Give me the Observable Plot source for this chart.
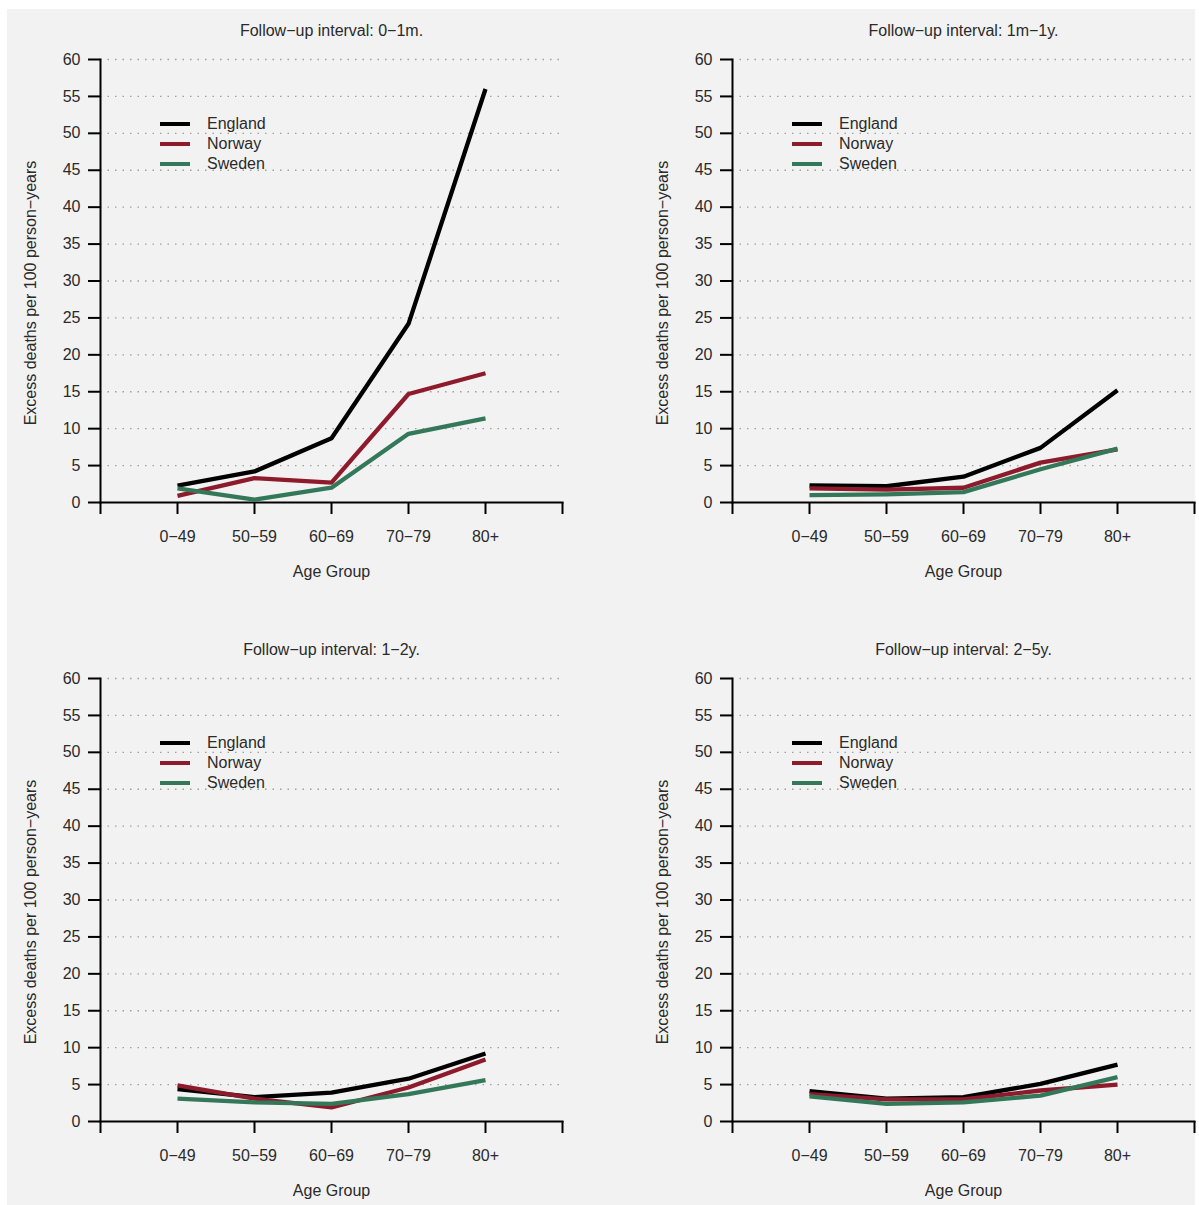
<!DOCTYPE html>
<html>
<head>
<meta charset="utf-8">
<script src="https://cdn.jsdelivr.net/npm/d3@7"></script>
<script src="https://cdn.jsdelivr.net/npm/@observablehq/plot@0.6"></script>
<style>
  body { margin: 0; background: #ffffff; font-family: "Liberation Sans", Arial, sans-serif; }
  #bg { position: absolute; left: 7px; top: 9px; width: 1188px; height: 1196px; background: #f2f2f2; }
  .panel { position: absolute; }
  .sw { position: absolute; width: 30px; height: 4px; }
  .lt { position: absolute; font-size: 16px; line-height: 20px; color: #2a2a2a; white-space: nowrap; }
</style>
</head>
<body>
<div id="bg"></div>
<script>
// ---- data ----
const ageGroups = ["0−49", "50−59", "60−69", "70−79", "80+"];
const countries = ["England", "Norway", "Sweden"];
const countryColors = ["#000000", "#8e1b2c", "#34785a"];
const intervals = ["0−1m.", "1m−1y.", "1−2y.", "2−5y."];
// excess deaths per 100 person-years, one row per follow-up interval, one value per age group
const england = [
  [2.3, 4.2, 8.7, 24.2, 56.0],
  [2.3, 2.2, 3.5, 7.4, 15.2],
  [4.4, 3.3, 3.9, 5.8, 9.2],
  [4.1, 3.1, 3.3, 5.1, 7.7]
];
const norway = [
  [0.9, 3.3, 2.7, 14.7, 17.5],
  [1.9, 1.75, 2.0, 5.4, 7.2],
  [4.9, 3.1, 1.9, 4.6, 8.4],
  [3.7, 3.0, 3.0, 4.2, 5.0]
];
const sweden = [
  [1.9, 0.4, 2.0, 9.3, 11.4],
  [1.0, 1.1, 1.4, 4.5, 7.3],
  [3.1, 2.6, 2.4, 3.7, 5.6],
  [3.4, 2.4, 2.6, 3.5, 6.0]
];
const yTicks = d3.range(0, 61, 5);
const yLabel = "Excess deaths per 100 person−years";
const xLabel = "Age Group";

// ---- layout ----
const panelPos = [
  { left: 0, top: 0 }, { left: 632, top: 0 },
  { left: 0, top: 619 }, { left: 632, top: 619 }
];
const seriesByCountry = [england, norway, sweden];

intervals.forEach((intv, k) => {
  const rows = [];
  countries.forEach((c, ci) => {
    seriesByCountry[ci][k].forEach((v, ai) => rows.push({ country: c, pos: ai + 1, value: v }));
  });
  const chart = Plot.plot({
    width: 567, height: 586,
    marginLeft: 100, marginRight: 5, marginTop: 59, marginBottom: 84,
    style: { background: "transparent", fontSize: "16px", fontFamily: "'Liberation Sans', Arial, sans-serif", color: "#2a2a2a" },
    x: { domain: [0, 6] },
    y: { domain: [0, 60] },
    color: { domain: countries, range: countryColors },
    marks: [
      Plot.gridY(yTicks.filter(d => d > 0), { stroke: "#a0a0a0", strokeOpacity: 1, strokeWidth: 1.3, strokeDasharray: "1.5,6" }),
      Plot.frame({ anchor: "left", stroke: "#000", strokeWidth: 2 }),
      Plot.frame({ anchor: "bottom", stroke: "#000", strokeWidth: 2 }),
      Plot.axisY(yTicks, { tickSize: 12, tickPadding: 8, strokeWidth: 2, stroke: "#000", label: null }),
      Plot.axisX(d3.range(0, 7), { tickSize: 12, tickPadding: 16, strokeWidth: 2, stroke: "#000", tickFormat: i => ageGroups[i - 1] ?? "", label: null }),
      Plot.lineY(rows, { x: "pos", y: "value", stroke: "country", z: "country", strokeWidth: 4.3, strokeLinejoin: "round", strokeLinecap: "butt" }),
      Plot.text([`Follow−up interval: ${intv}`], { frameAnchor: "top", dy: -29, fontSize: 16, lineAnchor: "middle" }),
      Plot.text([xLabel], { frameAnchor: "bottom", dy: 69, fontSize: 16, lineAnchor: "middle" }),
      Plot.text([yLabel], { frameAnchor: "left", rotate: -90, dx: -70, dy: 12, fontSize: 16, textAnchor: "middle", lineAnchor: "middle" })
    ]
  });
  const wrap = document.createElement("div");
  wrap.className = "panel";
  wrap.style.left = panelPos[k].left + "px";
  wrap.style.top = panelPos[k].top + "px";
  wrap.appendChild(chart);
  document.body.appendChild(wrap);

  // legend
  countries.forEach((c, ci) => {
    const yc = panelPos[k].top + 124 + ci * 20;
    const sw = document.createElement("div");
    sw.className = "sw";
    sw.style.left = (panelPos[k].left + 160) + "px";
    sw.style.top = (yc - 2) + "px";
    sw.style.background = countryColors[ci];
    document.body.appendChild(sw);
    const t = document.createElement("div");
    t.className = "lt";
    t.style.left = (panelPos[k].left + 207) + "px";
    t.style.top = (yc - 10) + "px";
    t.textContent = c;
    document.body.appendChild(t);
  });
});
</script>
</body>
</html>
